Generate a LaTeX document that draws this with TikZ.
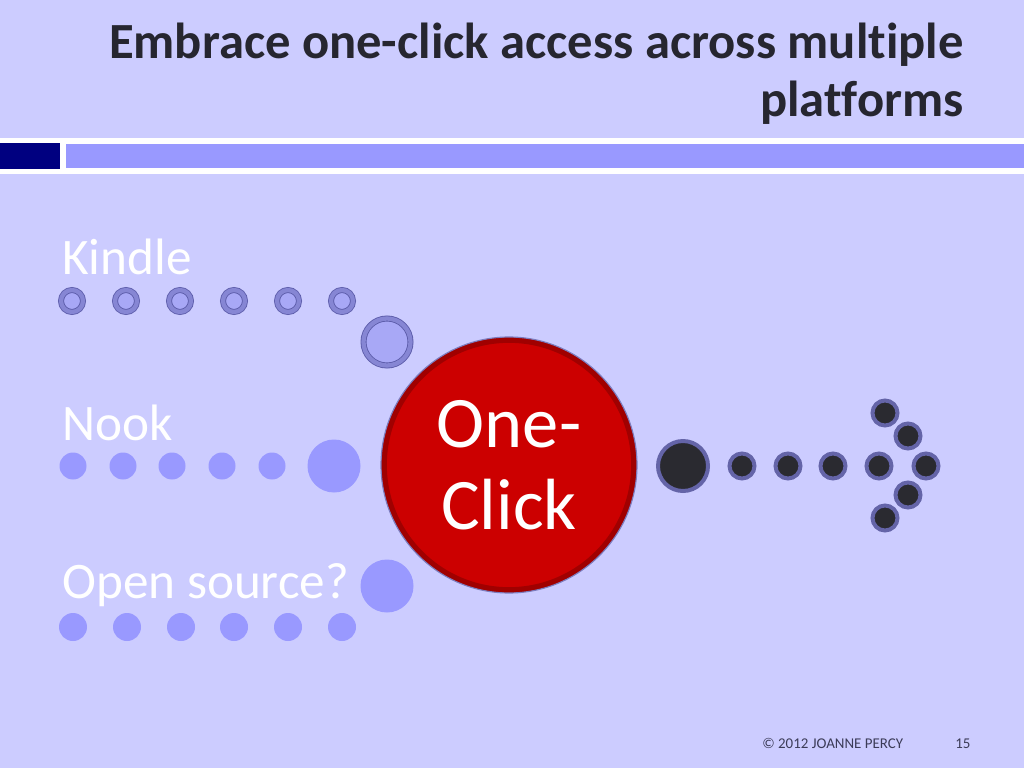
\documentclass[tikz,border=0pt]{standalone}
\usepackage{fontspec}
\setmainfont{Carlito}[Ligatures=NoCommon]
\definecolor{slidebg}{HTML}{CCCCFF}
\definecolor{navybox}{HTML}{000080}
\definecolor{rulebar}{HTML}{9999FF}
\definecolor{titleink}{HTML}{262630}
\definecolor{footink}{HTML}{3C3C58}
\definecolor{kfill}{HTML}{A8A8F6}
\definecolor{krim}{HTML}{8686D4}
\definecolor{kline}{HTML}{5C5CAA}
\definecolor{nookdot}{HTML}{9999FF}
\definecolor{bfill}{HTML}{2A2A30}
\definecolor{brim}{HTML}{6464A8}
\definecolor{clickred}{HTML}{CC0000}
\definecolor{clickrim}{HTML}{A00000}
\definecolor{clickline}{HTML}{7C7CBE}

\begin{document}
\begin{tikzpicture}[x=0.703125pt,y=-0.703125pt,
  titletext/.style={inner sep=0pt, text=titleink, align=right, font=\bfseries\fontsize{35.6}{41}\selectfont},
  platform/.style={inner sep=0pt, text=white, font=\fontsize{36}{40}\selectfont},
  foottext/.style={inner sep=0pt, text=footink, font=\fontsize{10.5}{12}\selectfont},
  kbead/.style={circle, inner sep=0pt, minimum size=#1*0.703125pt, fill=kfill, draw=kline, line width=0.6pt, double=krim, double distance=3pt},
  nbead/.style={circle, inner sep=0pt, minimum size=#1*0.703125pt, fill=nookdot},
  bbead/.style={circle, inner sep=0pt, minimum size=#1*0.703125pt, fill=bfill, draw=brim, line width=2.8pt},
  bigbutton/.style={circle, inner sep=0pt, minimum size=250*0.703125pt, fill=clickred, draw=clickrim, line width=4pt, text=white, align=center, font=\fontsize{51}{57.5}\selectfont}]
  \useasboundingbox (0,0) rectangle (1024,768);
  \fill [slidebg] (0,0) rectangle (1024,768);
  \fill [white] (0,138) rectangle (1024,174);
  \fill [navybox] (0,143) rectangle (60,169);
  \fill [rulebar] (66,144) rectangle (1024,168);

  \node [titletext, anchor=base east] (title) at (964,117) {Embrace one-click access across multiple\\platforms};

  \node [platform, anchor=base west] (kindle) at (62,275) {Kindle};
  \node [platform, anchor=base west] (nook) at (62,440) {Nook};
  \node [platform, anchor=base west] (open) at (62,598) {Open source?};

  \node [kbead=22] (k1) at (72,301) {};
  \node [kbead=22] (k2) at (126,301) {};
  \node [kbead=22] (k3) at (180,301) {};
  \node [kbead=22] (k4) at (234,301) {};
  \node [kbead=22] (k5) at (288,301) {};
  \node [kbead=22] (k6) at (342,301) {};
  \node [kbead=47] (k7) at (387,342) {};

  \node [nbead=27] (n1) at (73,466) {};
  \node [nbead=27] (n2) at (123,466) {};
  \node [nbead=27] (n3) at (172,466) {};
  \node [nbead=27] (n4) at (222,466) {};
  \node [nbead=27] (n5) at (272,466) {};
  \node [nbead=53] (n6) at (334,466) {};

  \node [nbead=28] (o1) at (73,627) {};
  \node [nbead=28] (o2) at (127,627) {};
  \node [nbead=28] (o3) at (181,627) {};
  \node [nbead=28] (o4) at (234,627) {};
  \node [nbead=28] (o5) at (288,627) {};
  \node [nbead=28] (o6) at (342,627) {};
  \node [nbead=53] (o7) at (387,586) {};

  \node [bigbutton] (click) at (509,465) {One-\\Click};
  \draw [clickline, line width=0.8pt] (click.center) circle [radius=128];

  \node [bbead=50] (b0) at (683,466) {};
  \node [bbead=25] (b1) at (742,466) {};
  \node [bbead=25] (b2) at (788,466) {};
  \node [bbead=25] (b3) at (833,466) {};
  \node [bbead=25] (b4) at (879,466) {};
  \node [bbead=25] (b5) at (926,466) {};
  \node [bbead=25] (b6) at (885,413) {};
  \node [bbead=25] (b7) at (908,436) {};
  \node [bbead=25] (b8) at (908,495) {};
  \node [bbead=25] (b9) at (885,518) {};

  \node [foottext, anchor=base west] (copyright) at (762,748) {© 2012 JOANNE PERCY};
  \node [foottext, anchor=base west] (pagenum) at (955,748) {15};
\end{tikzpicture}
\end{document}
